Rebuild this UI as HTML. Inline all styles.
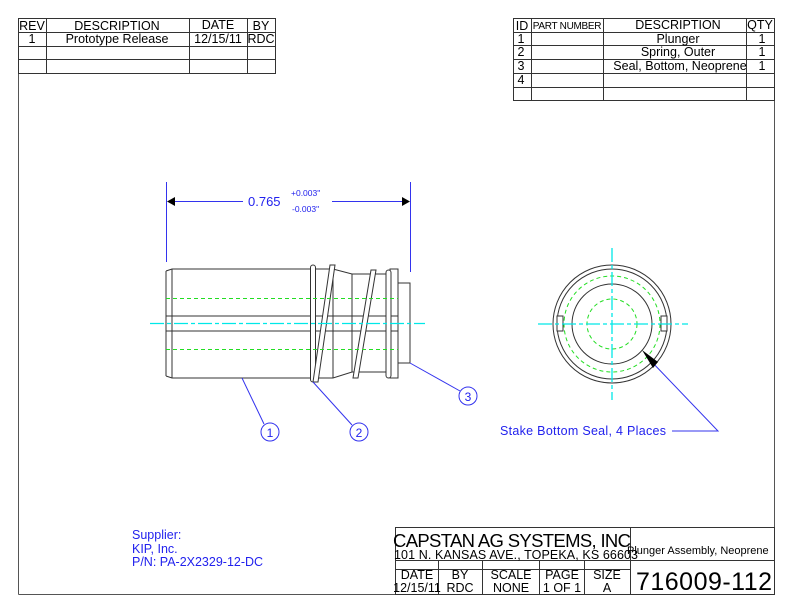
<!DOCTYPE html>
<html><head><style>
html,body{margin:0;padding:0;background:#fff;}
svg{display:block;}
text{font-family:"Liberation Sans",sans-serif;}
</style></head><body>
<svg width="792" height="612" viewBox="0 0 792 612" xmlns="http://www.w3.org/2000/svg">
<rect x="0" y="0" width="792" height="612" fill="#fff"/>
<!-- frame -->
<g stroke="#555" stroke-width="1" fill="none">
<line x1="18.5" y1="18.5" x2="18.5" y2="594.5"/>
<line x1="774.5" y1="18.5" x2="774.5" y2="594.5"/>
<line x1="18.5" y1="594.5" x2="774.5" y2="594.5"/>
</g>
<!-- rev table -->
<g stroke="#333" stroke-width="1" fill="none">
<rect x="18.5" y="18.5" width="257" height="55"/>
<line x1="18.5" y1="32.5" x2="275.5" y2="32.5"/>
<line x1="18.5" y1="46.5" x2="275.5" y2="46.5"/>
<line x1="18.5" y1="59.5" x2="275.5" y2="59.5"/>
<line x1="46.5" y1="18.5" x2="46.5" y2="73.5"/>
<line x1="189.5" y1="18.5" x2="189.5" y2="73.5"/>
<line x1="247.5" y1="18.5" x2="247.5" y2="73.5"/>
</g>
<g font-size="12.5" fill="#000" text-anchor="middle">
<text x="32" y="30">REV</text>
<text x="117" y="30">DESCRIPTION</text>
<text x="218" y="29">DATE</text>
<text x="261" y="30">BY</text>
<text x="32" y="43">1</text>
<text x="117" y="43">Prototype Release</text>
<text x="218" y="43">12/15/11</text>
<text x="261" y="43">RDC</text>
</g>
<!-- parts table -->
<g stroke="#333" stroke-width="1" fill="none">
<rect x="513.5" y="18.5" width="261" height="82"/>
<line x1="513.5" y1="32.5" x2="774.5" y2="32.5"/>
<line x1="513.5" y1="45.5" x2="774.5" y2="45.5"/>
<line x1="513.5" y1="59.5" x2="774.5" y2="59.5"/>
<line x1="513.5" y1="73.5" x2="774.5" y2="73.5"/>
<line x1="513.5" y1="87.5" x2="774.5" y2="87.5"/>
<line x1="531.5" y1="18.5" x2="531.5" y2="100.5"/>
<line x1="603.5" y1="18.5" x2="603.5" y2="100.5"/>
<line x1="746.5" y1="18.5" x2="746.5" y2="100.5"/>
</g>
<g font-size="12.5" fill="#000" text-anchor="middle">
<text x="522" y="30">ID</text>
<text x="567" y="29" font-size="10" letter-spacing="-0.3">PART NUMBER</text>
<text x="678" y="29">DESCRIPTION</text>
<text x="760" y="29">QTY</text>
<text x="521" y="43">1</text><text x="678" y="43">Plunger</text><text x="762" y="43">1</text>
<text x="521" y="56">2</text><text x="678" y="56">Spring, Outer</text><text x="762" y="56">1</text>
<text x="521" y="70">3</text><text x="680" y="70">Seal, Bottom, Neoprene</text><text x="762" y="70">1</text>
<text x="521" y="84">4</text>
</g>
<!-- dimension -->
<g stroke="#3333ee" stroke-width="1" fill="none">
<line x1="166.5" y1="182" x2="166.5" y2="262"/>
<line x1="410.5" y1="182" x2="410.5" y2="272"/>
<line x1="170" y1="201.5" x2="243" y2="201.5"/>
<line x1="332" y1="201.5" x2="406" y2="201.5"/>
</g>
<polygon points="167,201.5 175,197 175,206" fill="#000"/>
<polygon points="410,201.5 402,197 402,206" fill="#000"/>
<text x="248" y="206" font-size="13" fill="#2222ee">0.765</text>
<text x="291" y="196" font-size="8.5" fill="#2222ee">+0.003"</text>
<text x="292" y="212" font-size="8.5" fill="#2222ee">-0.003"</text>
<!-- side view -->
<g stroke="#333" stroke-width="1" fill="none">
<polyline points="166,271 172,269 333,269 352,274 390,274"/>
<polyline points="166,376 172,378 333,378 352,372 390,372"/>
<line x1="166" y1="271" x2="166" y2="376"/>
<line x1="172" y1="269" x2="172" y2="378"/>
<line x1="333" y1="269" x2="333" y2="378"/>
<line x1="352" y1="274" x2="352" y2="372"/>
<line x1="166" y1="316" x2="398" y2="316"/>
<line x1="166" y1="331" x2="398" y2="331"/>
<rect x="390" y="269" width="8" height="109"/>
<rect x="398" y="283" width="12" height="80"/>
<rect x="310.5" y="265" width="5" height="117" rx="2.5" fill="#fff"/>
<polygon points="330,265 335,265 318,382 313,382" fill="#fff"/>
<polygon points="371,270 376,270 358,378 353,378" fill="#fff"/>
<rect x="386" y="270" width="5" height="108" rx="2.5" fill="#fff"/>
</g>
<g stroke="#22dd22" stroke-width="1" stroke-dasharray="4,3" fill="none">
<line x1="166" y1="298.5" x2="398" y2="298.5"/>
<line x1="166" y1="349.5" x2="398" y2="349.5"/>
</g>
<line x1="150" y1="323.5" x2="425" y2="323.5" stroke="#00e8e8" stroke-width="1.3" stroke-dasharray="14,3,4,3"/>
<!-- balloons -->
<g stroke="#3333ee" stroke-width="1" fill="#fff">
<line x1="242" y1="378" x2="264" y2="424"/>
<line x1="313" y1="382" x2="352" y2="425"/>
<line x1="410" y1="363" x2="460" y2="391"/>
<circle cx="270" cy="432" r="9"/>
<circle cx="359" cy="432" r="9"/>
<circle cx="468" cy="396" r="9"/>
</g>
<g font-size="12" fill="#2222ee" text-anchor="middle">
<text x="270" y="437">1</text><text x="359" y="437">2</text><text x="468" y="401">3</text>
</g>
<!-- end view -->
<g stroke="#333" stroke-width="1" fill="none">
<circle cx="612" cy="324" r="59"/>
<circle cx="612" cy="324" r="55"/>
<circle cx="612" cy="324" r="40"/>
<rect x="557" y="316" width="6" height="15" fill="#fff"/>
<rect x="661" y="316" width="6" height="15" fill="#fff"/>
</g>
<g stroke="#22dd22" stroke-width="1" stroke-dasharray="4,3" fill="none">
<circle cx="612" cy="324" r="48"/>
<circle cx="612" cy="324" r="25"/>
</g>
<g stroke="#00e8e8" stroke-width="1.3" stroke-dasharray="14,3,4,3">
<line x1="538" y1="324" x2="688" y2="324"/>
<line x1="612" y1="248" x2="612" y2="400"/>
</g>
<g stroke="#3333ee" stroke-width="1" fill="none">
<polyline points="650,360 718,431 672,431"/>
</g>
<polygon points="642,350 658,362 653,368" fill="#000"/>
<text x="500" y="435" font-size="12.5" fill="#2222ee" textLength="166">Stake Bottom Seal, 4 Places</text>
<!-- supplier -->
<g font-size="12.5" fill="#2222ee">
<text x="132" y="539">Supplier:</text>
<text x="132" y="553">KIP, Inc.</text>
<text x="132" y="566">P/N: PA-2X2329-12-DC</text>
</g>
<!-- title block -->
<g stroke="#333" stroke-width="1" fill="none">
<rect x="395.5" y="527.5" width="379" height="67"/>
<line x1="395.5" y1="560.5" x2="774.5" y2="560.5"/>
<line x1="395.5" y1="569.5" x2="630.5" y2="569.5"/>
<line x1="630.5" y1="527.5" x2="630.5" y2="594.5"/>
<line x1="438.5" y1="560.5" x2="438.5" y2="594.5"/>
<line x1="482.5" y1="560.5" x2="482.5" y2="594.5"/>
<line x1="539.5" y1="560.5" x2="539.5" y2="594.5"/>
<line x1="584.5" y1="560.5" x2="584.5" y2="594.5"/>
</g>
<text x="393" y="547" font-size="18.5" fill="#000" textLength="238">CAPSTAN AG SYSTEMS, INC</text>
<text x="394" y="559" font-size="12.5" fill="#000" textLength="244">101 N. KANSAS AVE., TOPEKA, KS 66603</text>
<text x="627" y="554" font-size="11" fill="#000">Plunger Assembly, Neoprene</text>
<g font-size="12.5" fill="#000" text-anchor="middle">
<text x="417" y="579">DATE</text><text x="460" y="579">BY</text><text x="511" y="579">SCALE</text><text x="562" y="579">PAGE</text><text x="607" y="579">SIZE</text>
<text x="417" y="592">12/15/11</text><text x="460" y="592">RDC</text><text x="511" y="592">NONE</text><text x="562" y="592">1 OF 1</text><text x="607" y="592">A</text>
</g>
<text x="636" y="590" font-size="25" fill="#000" textLength="136">716009-112</text>
</svg>
</body></html>
